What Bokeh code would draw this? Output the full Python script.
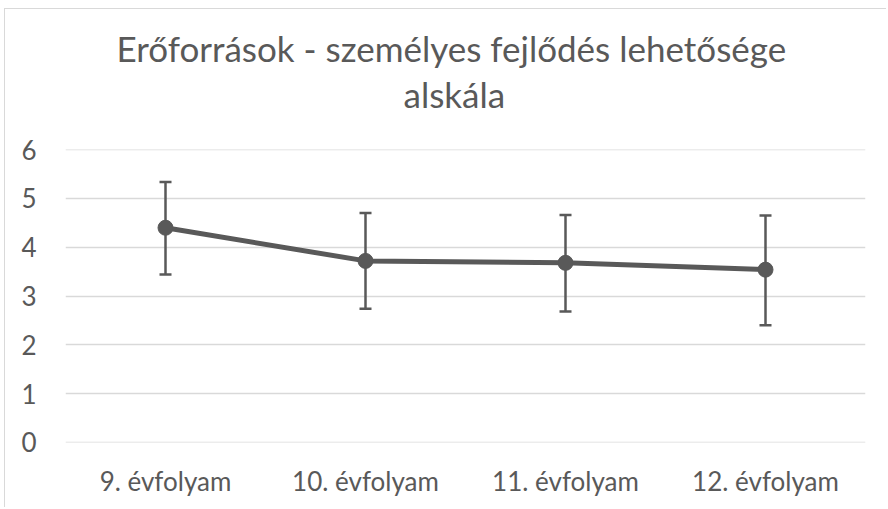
from bokeh.plotting import figure
from bokeh.models import (ColumnDataSource, FactorRange, Range1d, FixedTicker,
                          Whisker, TeeHead, Title)
from bokeh.embed import file_html
from bokeh.resources import INLINE

categories = ["9. évfolyam", "10. évfolyam", "11. évfolyam", "12. évfolyam"]
means = [4.40, 3.72, 3.68, 3.54]
upper = [5.34, 4.70, 4.66, 4.65]
lower = [3.44, 2.74, 2.68, 2.40]
y_ticks = [0, 1, 2, 3, 4, 5, 6]
title_lines = ["Erőforrások - személyes fejlődés lehetősége", "alskála"]

TXT = "#595959"
FONT = "Lato"

src = ColumnDataSource(dict(cat=categories, mean=means, upper=upper, lower=lower))

p = figure(width=882, height=499, x_range=FactorRange(*categories, range_padding=0),
           y_range=Range1d(-0.005, 6.005), output_backend="svg", toolbar_location=None,
           min_border_left=60, min_border_right=22, min_border_top=140,
           min_border_bottom=66,
           styles={"border-top": "1px solid #d9d9d9", "border-left": "1px solid #d9d9d9",
                   "margin-left": "4px", "margin-top": "8px"})
p.outline_line_color = None
p.background_fill_color = "white"
p.border_fill_color = "white"

p.xgrid.grid_line_color = None
p.ygrid.grid_line_color = "#d9d9d9"
p.ygrid.grid_line_width = 1.5
p.yaxis.ticker = FixedTicker(ticks=y_ticks)

for ax in (p.xaxis, p.yaxis):
    ax.axis_line_color = None
    ax.major_tick_line_color = None
    ax.minor_tick_line_color = None
    ax.major_tick_out = 0
    ax.major_tick_in = 0
    ax.major_label_text_color = TXT
    ax.major_label_text_font = FONT
    ax.major_label_text_font_size = "26px"
p.xaxis.major_label_standoff = 22
p.yaxis.major_label_standoff = 29

p.line("cat", "mean", source=src, line_color=TXT, line_width=5)
p.scatter("cat", "mean", source=src, size=15, fill_color=TXT, line_color=TXT)

w = Whisker(base="cat", upper="upper", lower="lower", source=src,
            line_color=TXT, line_width=2.5,
            upper_head=TeeHead(size=12, line_color=TXT, line_width=2.5),
            lower_head=TeeHead(size=12, line_color=TXT, line_width=2.5))
p.add_layout(w)

# closest to the frame first
p.add_layout(Title(text=title_lines[1], align="left", offset=338, standoff=66,
                   vertical_align="top",
                   text_font=FONT, text_font_size="35px", text_color=TXT,
                   text_font_style="normal"), "above")
p.add_layout(Title(text=title_lines[0], align="left", offset=51, standoff=-58,
                   text_font=FONT, text_font_size="35px", text_color=TXT,
                   text_font_style="normal"), "above")

open("out.html", "w").write(file_html(p, INLINE))
